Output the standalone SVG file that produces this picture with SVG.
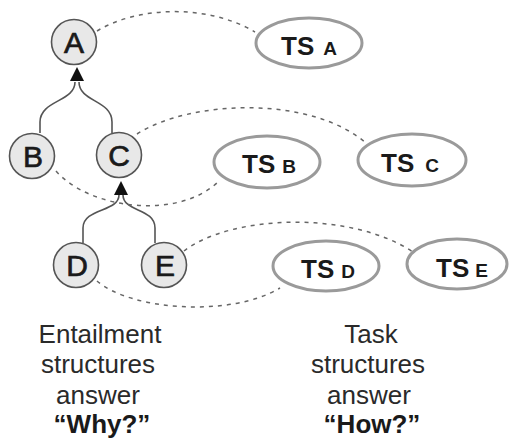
<svg xmlns="http://www.w3.org/2000/svg" width="509" height="443" viewBox="0 0 509 443">
  <style>
    .node circle { fill: #e8e8e8; stroke: #555; stroke-width: 1.6; }
    .node text { font-family: "Liberation Sans", Arial, sans-serif; font-size: 30px; fill: #1a1a1a; stroke: #1a1a1a; stroke-width: 0.7; text-anchor: middle; }
    .ts ellipse { fill: #fff; stroke: #9a9a9a; stroke-width: 3; }
    .ts text { font-family: "Liberation Sans", Arial, sans-serif; font-weight: bold; fill: #1a1a1a; }
    .ts .big { font-size: 26px; }
    .ts .small { font-size: 19px; }
    .tree { fill: none; stroke: #555; stroke-width: 1.6; }
    .link { fill: none; stroke: #666; stroke-width: 1.5; stroke-dasharray: 4 5; }
    .caption { font-family: "Liberation Sans", Arial, sans-serif; font-size: 26px; fill: #2a2a2a; text-anchor: middle; }
    .caption.q { font-weight: bold; fill: #1a1a1a; }
  </style>

  <!-- connectors -->
  <g id="connectors">
    <!-- entailment tree edges, each pair joined under an upward arrowhead -->
    <path class="tree" d="M40 133 L40 122 C40 100 75 102 75 82"/>
    <path class="tree" d="M112 133 L112 122 C112 100 79 102 79 82"/>
    <path d="M77 67 L84 81 L70 81 Z" fill="#111"/>
    <path class="tree" d="M83 243 L83 228 C83 208 119 212 119 195"/>
    <path class="tree" d="M155 243 L155 228 C155 208 123 212 123 195"/>
    <path d="M121 181 L128 195 L114 195 Z" fill="#111"/>
    <!-- links to task structures -->
    <path class="link" d="M97 31 C140 5 210 5 255 32"/>
    <path class="link" d="M137 134 C190 100 310 95 366 143"/>
    <path class="link" d="M56 171 C90 210 180 220 219 181"/>
    <path class="link" d="M184 251 C230 215 350 210 413 252"/>
    <path class="link" d="M97 281 C130 310 230 318 280 288"/>
  </g>

  <!-- entailment nodes -->
  <g id="A" class="node"><circle cx="74" cy="42" r="22.5"/><text x="74" y="53">A</text></g>
  <g id="B" class="node"><circle cx="32" cy="156" r="22.5"/><text x="33" y="167">B</text></g>
  <g id="C" class="node"><circle cx="119" cy="155" r="22.5"/><text x="119" y="166">C</text></g>
  <g id="D" class="node"><circle cx="76" cy="265" r="22.5"/><text x="77" y="276">D</text></g>
  <g id="E" class="node"><circle cx="164" cy="265" r="22.5"/><text x="165" y="276">E</text></g>

  <!-- task structures -->
  <g id="TSA" class="ts"><ellipse cx="309" cy="43" rx="53" ry="25"/><text x="281" y="55"><tspan class="big">TS</tspan><tspan class="small" dx="9">A</tspan></text></g>
  <g id="TSB" class="ts"><ellipse cx="267" cy="162" rx="53" ry="26"/><text x="242" y="173"><tspan class="big">TS</tspan><tspan class="small" dx="7">B</tspan></text></g>
  <g id="TSC" class="ts"><ellipse cx="412" cy="160" rx="54" ry="26"/><text x="381" y="172"><tspan class="big">TS</tspan><tspan class="small" dx="11">C</tspan></text></g>
  <g id="TSD" class="ts"><ellipse cx="326" cy="266" rx="53" ry="25"/><text x="301" y="278"><tspan class="big">TS</tspan><tspan class="small" dx="7">D</tspan></text></g>
  <g id="TSE" class="ts"><ellipse cx="457" cy="264" rx="50" ry="25"/><text x="436" y="277"><tspan class="big">TS</tspan><tspan class="small" dx="6">E</tspan></text></g>

  <!-- captions -->
  <g id="entailment-caption">
    <text class="caption" x="100" y="343">Entailment</text>
    <text class="caption" x="98" y="373">structures</text>
    <text class="caption" x="98" y="404">answer</text>
    <text class="caption q" x="102" y="433">“Why?”</text>
  </g>
  <g id="task-caption">
    <text class="caption" x="371" y="343">Task</text>
    <text class="caption" x="368" y="373">structures</text>
    <text class="caption" x="369" y="404">answer</text>
    <text class="caption q" x="372" y="433">“How?”</text>
  </g>
</svg>
